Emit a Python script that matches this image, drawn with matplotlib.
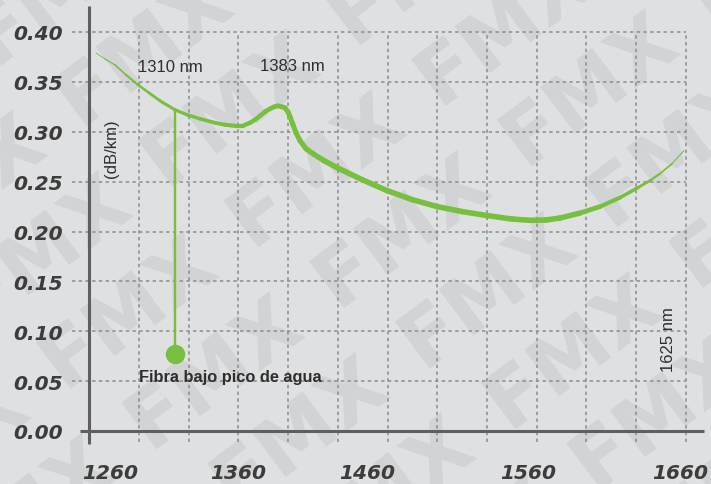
import numpy as np
import matplotlib.pyplot as plt
from matplotlib.collections import LineCollection
from matplotlib.transforms import ScaledTranslation, Affine2D
from matplotlib.textpath import TextPath
from matplotlib.patches import PathPatch
from matplotlib.font_manager import FontProperties

# attenuation curve (nm, dB/km)
wavelength = [1264.7, 1270.7, 1277.4, 1284.8, 1292.8, 1300.2, 1307.6, 1317.6,
              1325.7, 1334.4, 1344.4, 1351.1, 1357.8, 1363.2, 1367.9, 1371.2,
              1374.6, 1377.9, 1381.3, 1384.0, 1386.6, 1389.3, 1391.3, 1393.3,
              1394.7, 1396.7, 1398.7, 1401.4, 1405.4, 1410.1, 1417.5, 1426.2,
              1442.9, 1459.7, 1476.4, 1493.2, 1509.9, 1526.7, 1543.4, 1556.0,
              1566.0, 1575.6, 1589.0, 1602.4, 1615.8, 1627.8, 1635.8, 1642.6,
              1650.6, 1658.6]
attenuation = [0.379, 0.373, 0.367, 0.357, 0.347, 0.339, 0.331, 0.322,
               0.317, 0.313, 0.309, 0.307, 0.306, 0.306, 0.309, 0.312,
               0.316, 0.320, 0.323, 0.325, 0.326, 0.325, 0.324, 0.320,
               0.315, 0.307, 0.299, 0.291, 0.283, 0.278, 0.271, 0.264,
               0.252, 0.241, 0.232, 0.225, 0.220, 0.216, 0.2125, 0.2112,
               0.2115, 0.2135, 0.2185, 0.225, 0.234, 0.244, 0.251, 0.258,
               0.268, 0.281]

marker_x = 1317.6
marker_top = 0.322
marker_bottom = 0.077

x_ticks = [1260, 1360, 1460, 1560, 1660]
y_ticks = [0.00, 0.05, 0.10, 0.15, 0.20, 0.25, 0.30, 0.35, 0.40]
x_grid = [1260 + k * 400 / 12 for k in range(1, 13)]

bg = '#dfe0e2'
wm = '#d2d3d5'
green = '#77bf3f'
grey_txt = '#3c3c3c'
grid_c = '#8c8c8c'
axis_c = '#5f5f60'

fig = plt.figure(figsize=(7.11, 4.85), dpi=100, facecolor=bg)

# watermark in a background axes (pixel coordinates, y up)
bgax = fig.add_axes([0, 0, 1, 1], zorder=-1)
bgax.set_xlim(0, 711)
bgax.set_ylim(0, 485)
bgax.axis('off')
tp = TextPath((0, 0), 'FMX', size=80,
              prop=FontProperties(family='DejaVu Sans', weight='bold'))
bb = tp.get_extents()
cx, cy = (bb.x0 + bb.x1) / 2, (bb.y0 + bb.y1) / 2
ang = 37
u = np.array([np.cos(np.radians(ang)), np.sin(np.radians(ang))])
v = np.array([np.sin(np.radians(ang)), -np.cos(np.radians(ang))])
c0 = np.array([487, 195])
for i in range(-5, 6):
    for j in range(-6, 7):
        c = c0 + i * 235 * u + j * (100 * v + 32 * u)
        if -200 < c[0] < 911 and -200 < c[1] < 685:
            tr = Affine2D().translate(-cx, -cy).rotate_deg(ang).translate(*c)
            bgax.add_patch(PathPatch(tr.transform_path(tp), fc=wm, ec='none'))

ax = fig.add_axes([89 / 711, 53 / 485, 597 / 711, 399 / 485])
ax.patch.set_visible(False)
ax.set_xlim(1260, 1660)
ax.set_ylim(0, 0.4)
for s in ax.spines.values():
    s.set_visible(False)

# grid
ax.hlines(y_ticks[1:], 1248.6, 1660, colors=grid_c, linestyles=(0, (2.2, 2.2)),
          linewidth=1.1, clip_on=False, zorder=1)
ax.vlines(x_grid, -0.011, 0.40, colors=grid_c, linestyles=(0, (2.2, 2.2)),
          linewidth=1.1, clip_on=False, zorder=1)

# axes lines
ax.plot([1260, 1260], [-0.013, 0.426], color=axis_c, lw=2.2, clip_on=False,
        zorder=3, solid_capstyle='butt')
ax.plot([1254, 1672], [0, 0], color=axis_c, lw=2.2, clip_on=False, zorder=3,
        solid_capstyle='butt')

# curve with tapered width
pts = np.column_stack([wavelength, attenuation])
segs = np.stack([pts[:-1], pts[1:]], axis=1)
mid = (np.array(wavelength[:-1]) + np.array(wavelength[1:])) / 2
widths = np.interp(mid, [1264, 1300, 1360, 1420, 1580, 1625, 1660],
                   [0.5, 2.0, 3.0, 4.0, 4.0, 2.4, 0.5])
lc = LineCollection(segs, linewidths=widths, colors=green, capstyle='round',
                    joinstyle='round', zorder=4)
ax.add_collection(lc)

# marker
ax.plot([marker_x, marker_x], [marker_top, marker_bottom], color=green,
        lw=1.7, zorder=4)
ax.plot([marker_x], [marker_bottom], 'o', color=green, ms=14, mec='none',
        zorder=5)

# ticks
ax.set_xticks(x_ticks)
ax.set_xticklabels([str(v) for v in x_ticks])
ax.set_yticks(y_ticks)
ax.set_yticklabels(['%.2f' % v for v in y_ticks])
ax.tick_params(length=0)
ax.tick_params(axis='y', pad=19)
ax.tick_params(axis='x', pad=23)
for lbl in ax.get_xticklabels() + ax.get_yticklabels():
    lbl.set_fontsize(14.5)
    lbl.set_fontweight('bold')
    lbl.set_fontstyle('italic')
    lbl.set_color(grey_txt)
shifts = [21, 0, -20, -9, -6]
for lbl, dx in zip(ax.get_xticklabels(), shifts):
    lbl.set_transform(lbl.get_transform() +
                      ScaledTranslation(dx / 100, 0, fig.dpi_scale_trans))

# annotations
font = 'Liberation Sans'
ax.text(1314.5, 0.365, '1310 nm', fontsize=12, family=font, color='#2e2e2e',
        ha='center', va='center')
ax.text(1396.3, 0.366, '1383 nm', fontsize=12, family=font, color='#2e2e2e',
        ha='center', va='center')
ax.text(1274.8, 0.284, '(dB/km)', fontsize=12, family=font, color='#2e2e2e',
        ha='center', va='center', rotation=90)
ax.text(1648, 0.093, '1625 nm', fontsize=12, family=font, color='#2e2e2e',
        ha='center', va='center', rotation=90)
ax.text(1293.5, 0.055, 'Fibra bajo pico de agua', fontsize=11.8, family=font,
        fontweight='bold', color='#2e2e2e', ha='left', va='center')

fig.savefig('out.png', dpi=100, facecolor=bg)
